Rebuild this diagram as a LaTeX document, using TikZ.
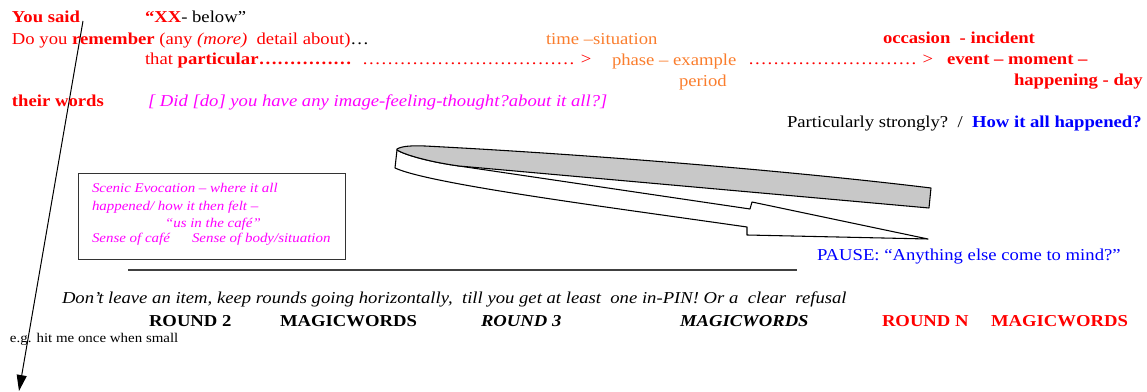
\documentclass[tikz,border=0pt]{standalone}
\usepackage{fontspec}
\setmainfont{Liberation Serif}[FakeStretch=1.12]
\usetikzlibrary{arrows.meta}
\definecolor{orng}{RGB}{250,125,45}
\definecolor{mgnt}{RGB}{255,0,255}
\definecolor{ribgray}{RGB}{200,200,200}
\newcommand\mainsz{\fontsize{12.5}{15}\selectfont}
\newcommand\smallsz{\fontsize{10}{12}\selectfont}
\newcommand\dotrun[1]{\hbox to #1{\leaders\hbox to 4.7pt{\hss.\hss}\hfill}}
\begin{document}
\begin{tikzpicture}[x=0.75pt,y=-0.75pt,
  txt/.style={anchor=base west,inner sep=0pt,outer sep=0pt,font=\mainsz},
  redtxt/.style={txt,text=red},
  orgtxt/.style={txt,text=orng},
  boxtxt/.style={txt,text=mgnt,font=\smallsz\itshape},
  ribbon/.style={draw=black,line width=0.8pt,line join=round},
  frame/.style={draw=black!80,line width=0.8pt},
  rule/.style={draw=black!75,line width=1pt}]
\useasboundingbox (0,0) rectangle (1147,392);
% long arrow
\coordinate (astart) at (83,21);
\coordinate (aend) at (19,391);
\draw[line width=0.75pt,-{Triangle[length=12pt,width=7.5pt]}] (astart) -- (aend);
% rows
\node[redtxt] (yousaid) at (12,23) {\textbf{You said}};
\node[redtxt] (xx) at (145,23) {\textbf{“XX}\textcolor{black}{- below”}};
\node[redtxt] (doyou) at (12,45) {Do you \textbf{remember} (any \textit{(more)}\ \ detail about)\textcolor{black}{…}};
\node[orgtxt] (time) at (546,45) {time –situation};
\node[redtxt] (occ) at (883,44) {\textbf{occasion\ \ - incident}};
\node[redtxt] (that) at (145,65) {that \textbf{particular……………}};
\node[redtxt] (dots1) at (362,65) {\dotrun{162pt}\,>};
\node[orgtxt] (phase) at (612,66) {phase – example};
\node[redtxt] (dots2) at (748,65) {\dotrun{131pt}>};
\node[redtxt] (event) at (947,65) {\textbf{event – moment –}};
\node[orgtxt] (period) at (679,87) {period};
\node[redtxt] (happ) at (1014,86) {\textbf{happening - day}};
\node[redtxt] (their) at (12,107) {\textbf{their words}};
\node[txt,text=mgnt] (did) at (148,107) {\itshape [ Did [do] you have any image-feeling-thought?about it all?]};
\node[txt] (partic) at (787,128) {Particularly strongly?\ \ /\ \ \textcolor{blue}{\textbf{How it all happened?}}};
% ribbon arrow
\path[ribbon,fill=white] (397,150) .. controls (405,155) and (430,162) .. (459,166)
  -- (750,209) -- (752,202) -- (928,239) -- (747,235) -- (747,227)
  .. controls (600,206) and (430,184) .. (395,168) -- cycle;
\path[ribbon,fill=ribgray] (397,149) .. controls (402,146) and (412,145.5) .. (425,146)
  .. controls (600,155) and (800,172) .. (931,188) -- (929,208) -- (459,166)
  .. controls (430,162) and (405,155) .. (397,150) -- cycle;
% box
\node[frame,inner sep=0pt,minimum width=267*0.75pt,minimum height=86*0.75pt,anchor=north west] (box) at (78,173) {};
\node[boxtxt] (b1) at (92,193) {Scenic Evocation – where it all};
\node[boxtxt] (b2) at (92,211) {happened/ how it then felt –};
\node[boxtxt] (b3) at (165,228) {“us in the café”};
\node[boxtxt] (b4) at (92,243) {Sense of café};
\node[boxtxt] (b5) at (192,243) {Sense of body/situation};
% rule
\coordinate (rl) at (128,270);
\coordinate (rr) at (797,270);
\draw[rule] (rl) -- (rr);
\node[txt,text=blue] (pause) at (817,261) {PAUSE: “Anything else come to mind?”};
\node[txt] (dont) at (62,304) {\itshape Don’t leave an item, keep rounds going horizontally,\ \ till you get at least\ \ one in-PIN! Or a\ \ clear\ \ refusal};
\node[txt] (r2) at (149,326) {\textbf{ROUND 2}};
\node[txt] (m2) at (280,326) {\textbf{MAGICWORDS}};
\node[txt] (r3) at (481,326) {\textbf{\itshape ROUND 3}};
\node[txt] (m3) at (680,326) {\textbf{\itshape MAGICWORDS}};
\node[redtxt] (rn) at (882,326) {\textbf{ROUND N}};
\node[redtxt] (mn) at (991,326) {\textbf{MAGICWORDS}};
\node[txt,font=\smallsz] (eg) at (10,343) {e.g. hit me once when small};
\end{tikzpicture}
\end{document}
